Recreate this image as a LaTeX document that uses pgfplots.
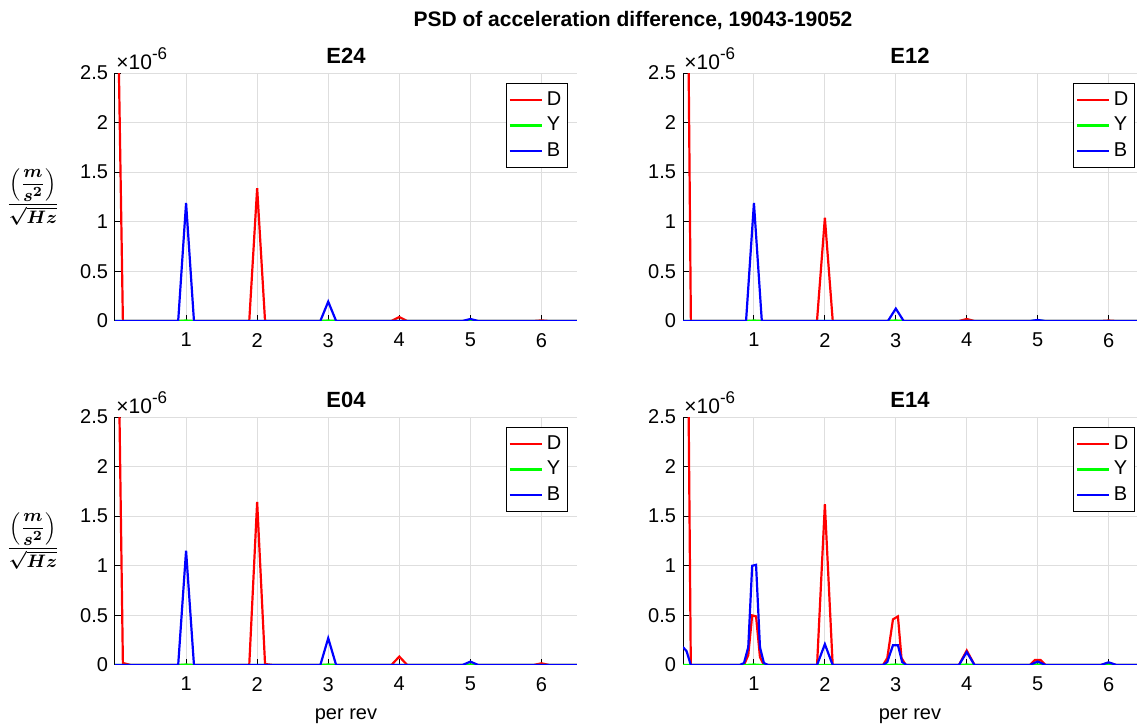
\documentclass[border=0pt]{standalone}
\usepackage{fontspec}
\setmainfont{Liberation Sans}
\usepackage{amsmath}
\usepackage{pgfplots}
\pgfplotsset{compat=1.18}
\definecolor{gridgray}{HTML}{DEDEDE}
\definecolor{mred}{HTML}{FF0000}
\definecolor{mgreen}{HTML}{00FF00}
\definecolor{mblue}{HTML}{0000FF}
\newlength{\ux}
\setlength{\ux}{0.5pt}
\pgfplotsset{
  psd/.style={
    scale only axis, height=248\ux,
    xmin=0, ymin=0, ymax=2.5,
    clip mode=individual,
    xtick={1,2,3,4,5,6}, xticklabels={1,2,3,4,5,6},
    ytick={0,0.5,1,1.5,2,2.5}, yticklabels={0,0.5,1,1.5,2,2.5},
    grid=major, grid style={line width=0.5pt, gridgray},
    axis lines*=left, axis line style={line width=0.5pt, black, -},
    tick align=inside, major tick length=3pt,
    tick style={black, line width=0.5pt},
    ticklabel style={font=\fontsize{10}{12}\selectfont},
    xticklabel style={yshift=-2.5pt},
    /pgf/number format/assume math mode=true,
    every axis title shift=0pt,
    title style={font=\bfseries\fontsize{11}{13}\selectfont, at={(0.5,1)}, anchor=base, yshift=10\ux},
    xlabel style={font=\fontsize{10}{12}\selectfont, yshift=-2pt},
    legend style={at={(axis cs:6.37,2.4)}, anchor=north east, draw=black, line width=0.5pt,
      font=\fontsize{10}{12}\selectfont, inner xsep=1pt, inner ysep=2pt, row sep=0.5pt},
    legend cell align=left,
    legend image code/.code={\draw[#1] (0pt,0pt) -- (16pt,0pt);},
    every axis plot/.append style={line width=1.1pt},
  },
  expo/.style={
    after end axis/.code={
      \node[anchor=base west, inner sep=0pt, font=\fontsize{10.5}{12}\selectfont] at ([xshift=1\ux, yshift=4\ux]rel axis cs:0,1) {×10\raisebox{0.85ex}{\fontsize{8.5}{10}\selectfont -6}};
    }
  },
}
\newcommand{\psdlabel}{{\fontsize{9.5}{12}\selectfont\boldmath$\displaystyle\frac{\left(\dfrac{m}{s^2}\right)}{\sqrt{Hz}}$}}
\begin{document}
\begin{tikzpicture}
\path[use as bounding box] (0,0) rectangle (1137\ux,-727\ux);

\node[font=\bfseries\fontsize{10.5}{12}\selectfont, anchor=base] at (633\ux,-27\ux) {PSD of acceleration difference, 19043-19052};

% E24
\begin{axis}[psd, expo, at={(115\ux,-321\ux)}, anchor=south west, width=462\ux, xmax=6.5, title={E24}]
\addplot[mred] coordinates {(0,5) (0.111,0) (1.889,0) (2,1.34) (2.111,0) (3.889,0) (4,0.04) (4.111,0) (5.889,0) (6,0.006) (6.111,0) (6.5,0)};
\addplot[mgreen] coordinates {(0,0) (0.889,0) (1,0.005) (1.111,0) (2.889,0) (3,0.005) (3.111,0) (4.889,0) (5,0.005) (5.111,0) (6.5,0)};
\addplot[mblue] coordinates {(0,0) (0.889,0) (1,1.19) (1.111,0) (2.889,0) (3,0.195) (3.111,0) (4.889,0) (5,0.02) (5.111,0) (6.5,0)};
\legend{D,Y,B}
\node[anchor=center] at ([xshift=-82\ux]rel axis cs:0,0.50) {\psdlabel};
\end{axis}

% E12
\begin{axis}[psd, expo, at={(683\ux,-321\ux)}, anchor=south west, width=454\ux, xmax=6.4, title={E12}]
\addplot[mred] coordinates {(0,9) (0.111,0) (1.889,0) (2,1.04) (2.111,0) (3.889,0) (4,0.02) (4.111,0) (5.889,0) (6,0.005) (6.111,0) (6.5,0)};
\addplot[mgreen] coordinates {(0,0) (0.889,0) (1,0.005) (1.111,0) (2.889,0) (3,0.005) (3.111,0) (4.889,0) (5,0.005) (5.111,0) (6.5,0)};
\addplot[mblue] coordinates {(0,0) (0.889,0) (1,1.19) (1.111,0) (2.889,0) (3,0.125) (3.111,0) (4.889,0) (5,0.01) (5.111,0) (6.5,0)};
\legend{D,Y,B}
\end{axis}

% E04
\begin{axis}[psd, expo, at={(115\ux,-665\ux)}, anchor=south west, width=462\ux, xmax=6.5, title={E04}, xlabel={per rev}]
\addplot[mred] coordinates {(0,5.8) (0.111,0.02) (0.222,0) (1.889,0) (2,1.645) (2.111,0.01) (2.222,0) (3.889,0) (4,0.085) (4.111,0) (5.889,0) (6,0.017) (6.111,0) (6.5,0)};
\addplot[mgreen] coordinates {(0,0) (0.889,0) (1,0.005) (1.111,0) (2.889,0) (3,0.005) (3.111,0) (4.889,0) (5,0.005) (5.111,0) (6.5,0)};
\addplot[mblue] coordinates {(0,0) (0.889,0) (1,1.153) (1.111,0) (2.889,0) (3,0.27) (3.111,0) (4.889,0) (5,0.034) (5.111,0) (6.5,0)};
\legend{D,Y,B}
\node[anchor=center] at ([xshift=-82\ux]rel axis cs:0,0.50) {\psdlabel};
\end{axis}

% E14
\begin{axis}[psd, expo, at={(683\ux,-665\ux)}, anchor=south west, width=454\ux, xmax=6.4, title={E14}, xlabel={per rev}]
\addplot[mred] coordinates {(0,5) (0.055,4.6) (0.11,0) (0.86,0) (0.92,0.1) (0.975,0.5) (1.03,0.49) (1.085,0.08) (1.14,0) (1.89,0) (2,1.62) (2.11,0) (2.82,0) (2.88,0.07) (2.96,0.46) (3.03,0.49) (3.08,0.07) (3.14,0) (3.89,0) (4,0.146) (4.11,0) (4.89,0) (4.96,0.05) (5.04,0.05) (5.11,0) (5.89,0) (6,0.02) (6.11,0) (6.5,0)};
\addplot[mgreen] coordinates {(0,0) (0.889,0) (1,0.005) (1.111,0) (2.889,0) (3,0.005) (3.111,0) (3.889,0) (4,0.005) (4.111,0) (4.889,0) (5,0.005) (5.111,0) (5.889,0) (6,0.005) (6.111,0) (6.5,0)};
\addplot[mblue] coordinates {(0,0.18) (0.05,0.14) (0.11,0) (0.8,0) (0.86,0.02) (0.92,0.18) (0.975,1.0) (1.03,1.01) (1.085,0.18) (1.14,0.02) (1.2,0) (1.89,0) (2,0.21) (2.11,0) (2.82,0) (2.88,0.03) (2.96,0.2) (3.03,0.2) (3.09,0.03) (3.15,0) (3.89,0) (4,0.13) (4.11,0) (4.89,0) (5,0.035) (5.11,0) (5.89,0) (6,0.027) (6.11,0) (6.5,0)};
\legend{D,Y,B}
\end{axis}
\end{tikzpicture}
\end{document}
